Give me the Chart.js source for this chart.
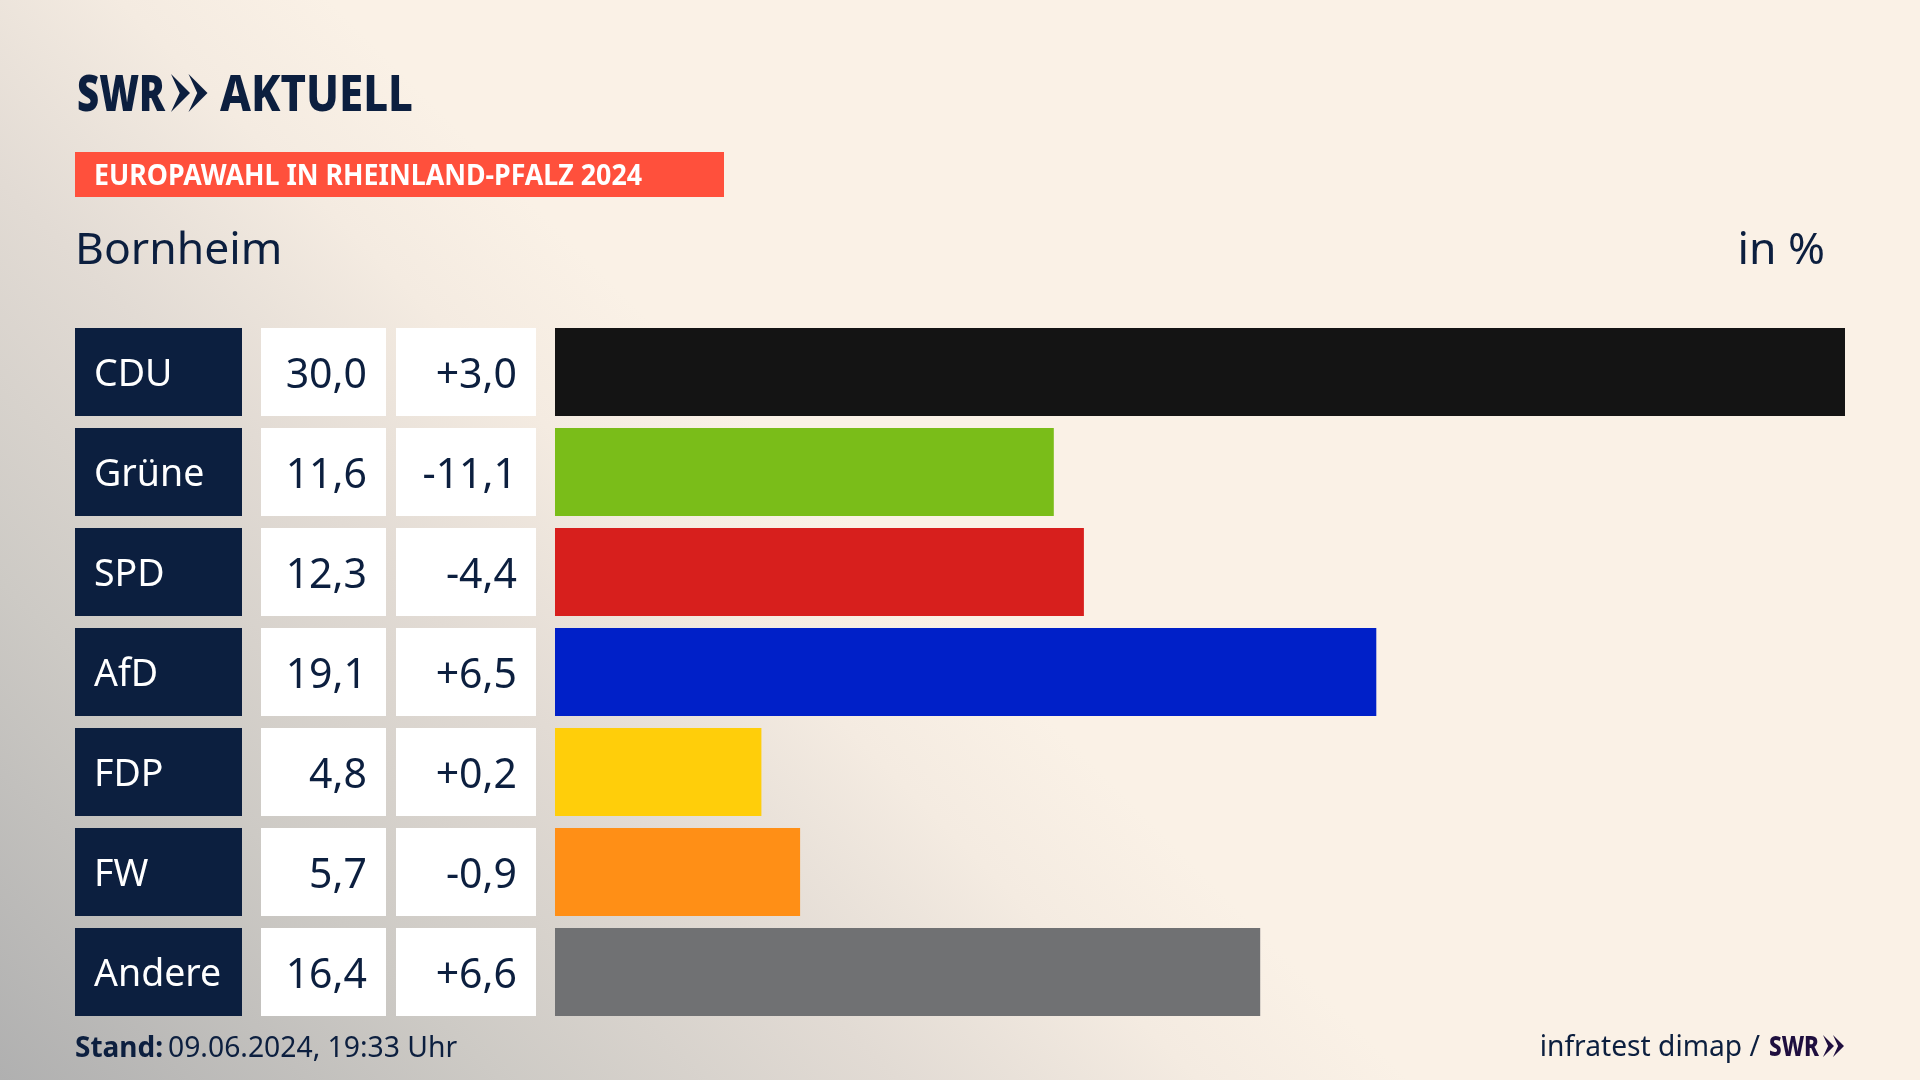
<!DOCTYPE html>
<html lang="de">
<head>
<meta charset="utf-8">
<title>Europawahl in Rheinland-Pfalz 2024 – Bornheim</title>
<script src="https://cdn.jsdelivr.net/npm/chart.js@4"></script>
<style>
html,body{margin:0;padding:0;width:1920px;height:1080px;overflow:hidden;background-color:#FAF1E6;
background-image:linear-gradient(45deg,#B0B0B0 0%,#CDCAC5 16.7%,#E2DBD4 30%,#F4EBE1 40%,#FAF1E6 47%);}
canvas{display:block}
</style>
</head>
<body>
<canvas id="c" width="1920" height="1080"></canvas>
<script>
const parties = ["CDU","Grüne","SPD","AfD","FDP","FW","Andere"];
const shares = [30.0,11.6,12.3,19.1,4.8,5.7,16.4];
const changes = [3.0,-11.1,-4.4,6.5,0.2,-0.9,6.6];
const barColors = ["#141414","#7ABD19","#D71F1D","#0020C8","#FFCE0A","#FF8F16","#707173"];
const headline = "EUROPAWAHL IN RHEINLAND-PFALZ 2024";
const place = "Bornheim";
const unit = "in %";
const stamp = "09.06.2024, 19:33 Uhr";
const source = "infratest dimap /";

const NAVY = "#0C1F3F", FONT = '"Noto Sans"';
const fmt = v => v.toFixed(1).replace(".", ",");
const fmtD = v => (v > 0 ? "+" : "") + fmt(v);

function chevrons(ctx, x, top, bottom, w, step, color){
  const mid = (top + bottom) / 2;
  ctx.fillStyle = color;
  for (const ox of [0, step]) {
    ctx.beginPath();
    ctx.moveTo(x + ox, top);
    ctx.lineTo(x + ox + w, mid);
    ctx.lineTo(x + ox, bottom);
    ctx.lineTo(x + ox + w * .46, mid);
    ctx.closePath();
    ctx.fill();
  }
}
function txt(ctx, s, x, y, font, color, align, maxW){
  ctx.font = font; ctx.fillStyle = color; ctx.textAlign = align || "left"; ctx.textBaseline = "alphabetic";
  if (maxW) ctx.fillText(s, x, y, maxW); else ctx.fillText(s, x, y);
}

const cells = {
  id: "cells",
  beforeDraw(chart){
    const {ctx, scales:{y}} = chart;
    const h = 88;
    ctx.save();
    parties.forEach((p,i) => {
      const c = y.getPixelForValue(i), t = c - h/2;
      ctx.fillStyle = NAVY; ctx.fillRect(75, t, 167, h);
      ctx.fillStyle = "#FFFFFF"; ctx.fillRect(261, t, 125, h); ctx.fillRect(396, t, 140, h);
      txt(ctx, fmt(shares[i]), 367, c + 16, `41px ${FONT}`, NAVY, "right");
      txt(ctx, fmtD(changes[i]), 517, c + 16, `41px ${FONT}`, NAVY, "right");
    });
    ctx.restore();
  },
  afterDraw(chart){
    const {ctx} = chart;
    ctx.save();
    txt(ctx, "SWR", 77, 111, `900 50px ${FONT}`, NAVY, "left", 88);
    chevrons(ctx, 171, 74, 112, 19, 17.5, NAVY);
    txt(ctx, "AKTUELL", 220, 111, `800 50px ${FONT}`, NAVY, "left", 193);
    ctx.fillStyle = "#FF503C"; ctx.fillRect(75, 152, 649, 45);
    txt(ctx, headline, 94, 185, `bold 28px ${FONT}`, "#FFFFFF", "left", 548);
    txt(ctx, place, 75, 264, `44.5px ${FONT}`, NAVY, "left");
    txt(ctx, unit, 1825, 264, `44.5px ${FONT}`, NAVY, "right");
    txt(ctx, "Stand:", 75, 1057, `bold 28px ${FONT}`, NAVY, "left", 88);
    txt(ctx, stamp, 168, 1057, `28.3px ${FONT}`, NAVY, "left");
    txt(ctx, source, 1760, 1056, `28.2px ${FONT}`, NAVY, "right");
    txt(ctx, "SWR", 1769, 1056, `800 28px ${FONT}`, "#1F0F3F", "left", 50);
    chevrons(ctx, 1823, 1035, 1057, 11, 10, "#1F0F3F");
    ctx.restore();
  }
};

new Chart(document.getElementById("c"), {
  type: "bar",
  plugins: [cells],
  data: {
    labels: parties,
    datasets: [{ data: shares, backgroundColor: barColors, barPercentage: .88, categoryPercentage: 1, borderWidth: 0 }]
  },
  options: {
    indexAxis: "y",
    responsive: false,
    animation: false,
    devicePixelRatio: 1,
    layout: { padding: { left: 94, right: 75, top: 322, bottom: 58 } },
    plugins: { legend: { display: false }, tooltip: { enabled: false }, title: { display: false } },
    scales: {
      x: { display: false, min: 0, max: 30 },
      y: {
        afterFit(s){ s.width = 461; },
        afterUpdate(s){
          const base = Object.getPrototypeOf(s).drawLabels;
          s.drawLabels = function(area){
            const ctx = this.ctx;
            ctx.save(); ctx.translate(0, 3);
            base.call(this, area);
            ctx.restore();
          };
        },
        grid: { display: false, drawTicks: false },
        border: { display: false },
        ticks: { color: "#FFFFFF", crossAlign: "far", padding: 0, autoSkip: false, font: { family: "Noto Sans", size: 37.5 } }
      }
    }
  }
});
</script>
</body>
</html>
